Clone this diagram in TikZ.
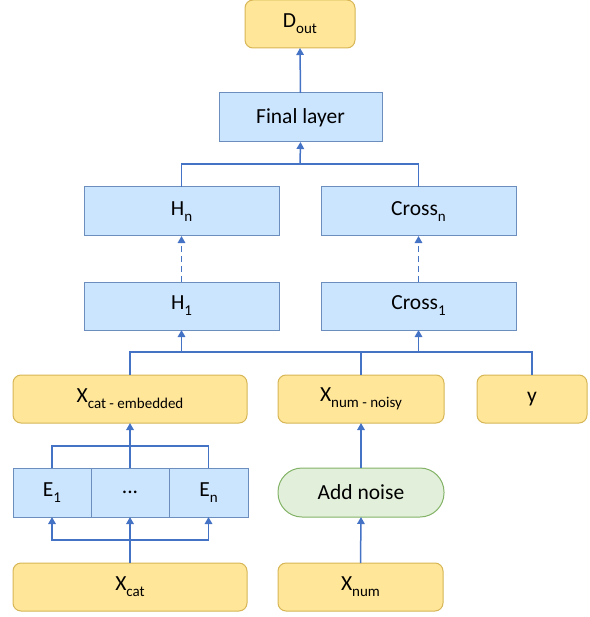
\documentclass[tikz,border=0pt]{standalone}
\usepackage{fontspec}
\setmainfont{Carlito}
\usetikzlibrary{arrows.meta}
\definecolor{yfill}{HTML}{FFE699}
\definecolor{ydraw}{HTML}{D6B656}
\definecolor{bfill}{HTML}{CCE5FF}
\definecolor{bdraw}{HTML}{6C8EBF}
\definecolor{gfill}{HTML}{E2EFDA}
\definecolor{gdraw}{HTML}{82B366}
\definecolor{acol}{HTML}{4472C4}
\newcommand{\sbx}[1]{\raisebox{-0.28em}{\fontsize{15}{17}\selectfont #1}}
\begin{document}
\begin{tikzpicture}[x=1pt,y=-1pt,
  every node/.style={font=\fontsize{21.5}{24}\selectfont, outer sep=0pt, inner sep=0pt},
  ybox/.style={draw=ydraw, fill=yfill, rounded corners=8, line width=1},
  bbox/.style={draw=bdraw, fill=bfill, line width=1},
  gbox/.style={draw=gdraw, fill=gfill, rounded corners=24, line width=1},
  conn/.style={draw=acol, line width=1.5},
  arr/.style={conn, -{Triangle[length=7,width=7.5]}},
  darr/.style={arr, dash pattern=on 6 off 4}]
\useasboundingbox (0,0) rectangle (589,617);
% top
\node[ybox, minimum width=110, minimum height=48] (dout) at (300,24) {D\sbx{out}};
\node[bbox, minimum width=163, minimum height=49] (final) at (300.5,117.5) {Final layer};
\node[bbox, minimum width=195, minimum height=49] (hn) at (181.5,211.5) {H\sbx{n}};
\node[bbox, minimum width=195, minimum height=49] (crossn) at (418.5,211.5) {Cross\sbx{n}};
\node[bbox, minimum width=195, minimum height=48] (h1) at (181.5,306) {H\sbx{1}};
\node[bbox, minimum width=195, minimum height=48] (cross1) at (418.5,306) {Cross\sbx{1}};
% middle row
\node[ybox, minimum width=234, minimum height=48] (xcatemb) at (130,399) {X\sbx{cat - embedded}};
\node[ybox, minimum width=166, minimum height=48] (xnumnoisy) at (361,399) {X\sbx{num - noisy}};
\node[ybox, minimum width=110, minimum height=48] (ynode) at (532,399) {y};
% embeddings
\node[bbox, minimum width=78, minimum height=49] (e1) at (52,492.5) {E\sbx{1}};
\node[bbox, minimum width=78, minimum height=49] (edots) at (130,492.5) {...};
\node[bbox, minimum width=79, minimum height=49] (en) at (208.5,492.5) {E\sbx{n}};
\node[gbox, minimum width=166, minimum height=49] (noise) at (361,492.5) {Add noise};
% bottom
\node[ybox, minimum width=234, minimum height=48] (xcat) at (130,587) {X\sbx{cat}};
\node[ybox, minimum width=165, minimum height=48] (xnum) at (360.5,587) {X\sbx{num}};
% junctions
\coordinate (top) at (300,164);
\coordinate (bus) at (300,352);
\coordinate (ebus) at (130,446);
\coordinate (cbus) at (130,540);
% connectors
\draw[arr] (final.north) -- (dout.south);
\draw[conn] (hn.north) |- (top) -| (crossn.north);
\draw[arr] (top) -- (final.south);
\draw[darr] (h1.north) -- (hn.south);
\draw[darr] (cross1.north) -- (crossn.south);
\draw[conn] (xcatemb.north) |- (bus) -| (ynode.north);
\draw[conn] (xnumnoisy.north) -- (xnumnoisy.north |- bus);
\draw[arr] (h1.south |- bus) -- (h1.south);
\draw[arr] (cross1.south |- bus) -- (cross1.south);
\draw[conn] (e1.north) |- (ebus) -| (en.north);
\draw[arr] (edots.north) -- (xcatemb.south);
\draw[arr] (cbus) -| (e1.south);
\draw[arr] (cbus) -| (en.south);
\draw[arr] (xcat.north) -- (edots.south);
\draw[arr] (xnum.north) -- (noise.south);
\draw[arr] (noise.north) -- (xnumnoisy.south);
\end{tikzpicture}
\end{document}
